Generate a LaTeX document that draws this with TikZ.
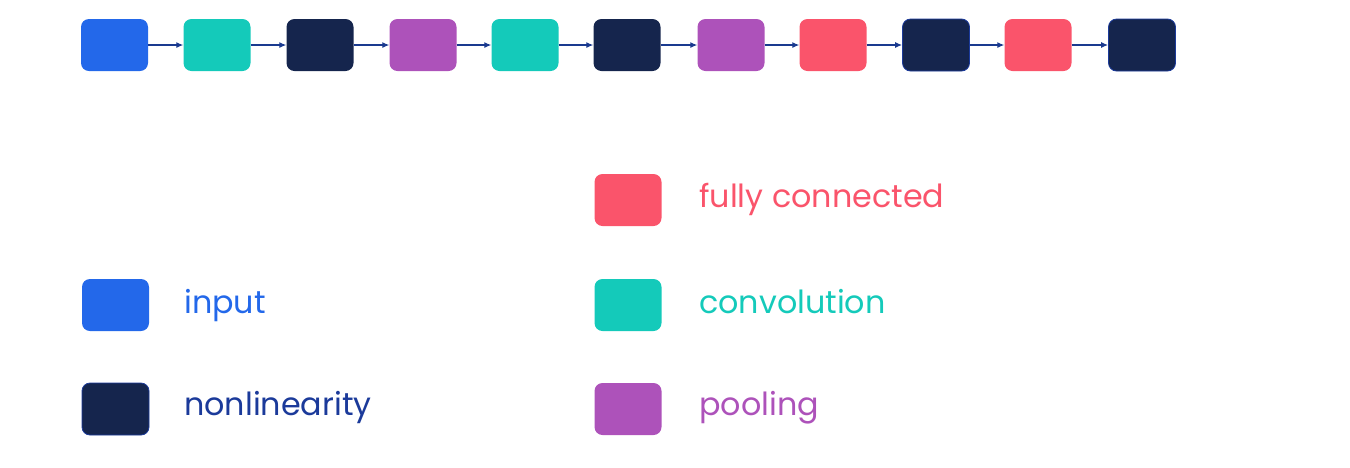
\documentclass[tikz,border=0pt]{standalone}
\usepackage{fontspec}
\setmainfont{Poppins}
\usetikzlibrary{arrows.meta}
\definecolor{cinput}{HTML}{2368EA}
\definecolor{cconv}{HTML}{14CABA}
\definecolor{cnon}{HTML}{15254D}
\definecolor{cpool}{HTML}{AD52BA}
\definecolor{cfc}{HTML}{FA546B}
\definecolor{carrow}{HTML}{1A3A8F}
\definecolor{cnontext}{HTML}{1B3A9A}
\begin{document}
\begin{tikzpicture}[x=1pt,y=-1pt,
  layer/.style={rectangle,rounded corners=8pt,minimum width=67pt,minimum height=52pt,inner sep=0pt,draw=none},
  inp/.style={layer,fill=cinput},
  conv/.style={layer,fill=cconv},
  nonl/.style={layer,fill=cnon},
  nonlb/.style={layer,fill=cnon,draw=cnontext,line width=0.8pt},
  pool/.style={layer,fill=cpool},
  fc/.style={layer,fill=cfc},
  link/.style={draw=carrow,line width=1.2pt,-{Latex[length=7pt,width=6pt]}},
  lbl/.style={anchor=base west,inner sep=0pt,font=\fontsize{31.8}{38}\selectfont}]
\useasboundingbox (0,0) rectangle (1350,467);
\node[inp]  (n1)  at (114.5,45) {};
\node[conv] (n2)  at (217,45) {};
\node[nonl] (n3)  at (320,45) {};
\node[pool] (n4)  at (423,45) {};
\node[conv] (n5)  at (525,45) {};
\node[nonl] (n6)  at (627,45) {};
\node[pool] (n7)  at (731,45) {};
\node[fc]   (n8)  at (833,45) {};
\node[nonlb](n9)  at (936,45) {};
\node[fc]   (n10) at (1038,45) {};
\node[nonlb](n11) at (1142,45) {};
\foreach \a/\b in {n1/n2,n2/n3,n3/n4,n4/n5,n5/n6,n6/n7,n7/n8,n8/n9,n9/n10,n10/n11}
  \draw[link] (\a) -- (\b);
% legend
\node[inp]  (linp)  at (115.5,305) {};
\node[nonlb](lnon)  at (115.5,409) {};
\node[fc]   (lfc)   at (628,200) {};
\node[conv] (lconv) at (628,305) {};
\node[pool] (lpool) at (628,409) {};
\node[lbl,text=cinput]   (tinp)  at (184,313) {input};
\node[lbl,text=cnontext] (tnon)  at (184,415) {nonlinearity};
\node[lbl,text=cfc]      (tfc)   at (699,207) {fully connected};
\node[lbl,text=cconv]    (tconv) at (699,313) {convolution};
\node[lbl,text=cpool]    (tpool) at (699,415) {pooling};
\end{tikzpicture}
\end{document}
